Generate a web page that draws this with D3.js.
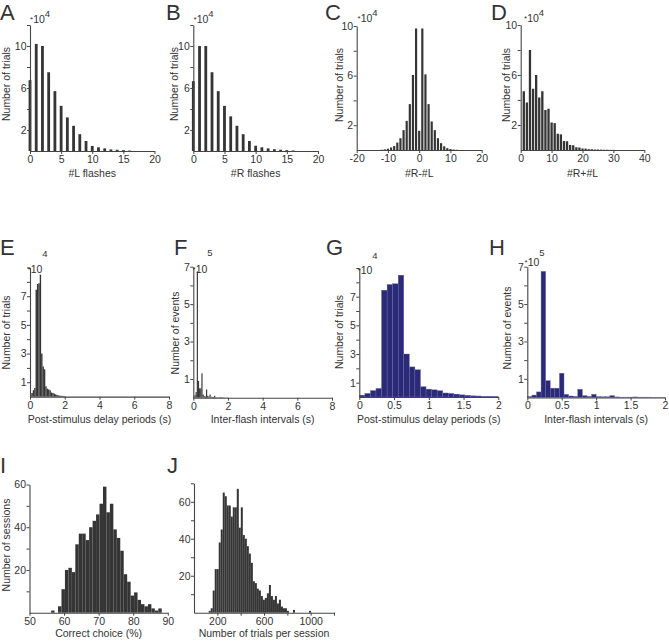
<!DOCTYPE html>
<html><head><meta charset="utf-8">
<script src="https://cdn.jsdelivr.net/npm/d3@7"></script>
<style>
body{margin:0;background:#fff}
svg{display:block}
text{font-family:"Liberation Sans",Arial,Helvetica,sans-serif;fill:#333}
</style>
</head><body>
<svg id="c" width="669" height="643"></svg>
<script>
// ---------------- DATA ----------------
// A, B: number of flashes per side (x 10^4 trials)
const flashCounts = [0,1,2,3,4,5,6,7,8,9,10,11,12,13,14,15,16];
const leftFlashTrials  = [6.75,10.2,10.0,7.5,5.7,4.3,3.2,2.4,1.6,0.95,0.48,0.35,0.25,0.15,0.12,0.08,0.04];
const rightFlashTrials = [6.65,10.0,10.0,7.5,5.7,4.3,3.3,2.4,1.6,0.95,0.5,0.35,0.25,0.17,0.12,0.08,0.05];
// C: #R-#L (x 10^4 trials)
const diffValues = [-12,-11,-10,-9,-8,-7,-6,-5,-4,-3,-2,-1,0,1,2,3,4,5,6,7,8,9,10,11,12];
const diffTrials = [0.02,0.05,0.1,0.2,0.32,0.6,0.95,1.6,2.35,3.7,6.05,9.8,1.55,9.8,6.1,3.7,2.3,1.6,0.95,0.55,0.3,0.15,0.08,0.04,0.02];
// D: #R+#L (x 10^4 trials)
const sumValues = [1,2,3,4,5,6,7,8,9,10,11,12,13,14,15,16,17,18,19,20,21,22,23,24,25,26,27,28,29,30];
const sumTrials = [4.7,3.8,8.0,4.9,6.0,4.2,4.7,3.2,3.3,2.2,2.15,1.3,1.25,0.72,0.7,0.4,0.38,0.22,0.2,0.12,0.11,0.07,0.06,0.04,0.04,0.03,0.02,0.02,0.01,0.01];
// E, G: post-stimulus delay periods (s), bins of 0.08 s from 0 (x 10^4 trials)
const delayBinStart = 0, delayBinWidth = 0.08;
const delayTrials = [0.13,0.25,0.45,0.6,7.45,7.85,7.9,8.5,3.0,2.1,1.9,0.72,0.55,0.5,0.44,0.28,0.25,0.2,0.15,0.12,0.08,0.07,0.05,0.05,0.04];
// F, H: inter-flash intervals (s), bins of 1/15 s from 0 (x 10^5 events)
const ifiBinStart = 0, ifiBinWidth = 1/15;
const ifiEvents = [0.05,0.13,0.3,6.75,0.9,0.5,0.5,1.3,0.17,0.08,0.06,0.44,0.1,0.06,0.17,0.05,0.04,0.04,0.1,0.03,0.02,0.02,0.02,0.03,0.02,0.02,0.02,0.01,0.01,0.01];
// I: correct choice (%), bins of 1 %
const correctBinStart = 56.25, correctBinWidth = 1;
const correctSessions = [1,0,3,11,20,21,19,32,37,37,34,40,43,46,51,59,47,51,39,35,29,18,14.5,8,9.5,6,4,3,4,2,1,2];
// J: number of trials per session, bins of 17.2 trials
const trialsBinStart = 126, trialsBinWidth = 17.2;
const trialsSessions = [1,2.4,12,23.6,23.6,38,45,65,63,58,58,52,57,57,67,46,57,42,40,36,32,27,17,16,13,12,9,7,8,10.5,15,9,7,9,5,7,3.3,2.4,2.4,1,0,0,1.5,0,0,0,0,0,0,0,1];

// ---------------- DRAWING ----------------
const svg = d3.select('#c');
const GRAY = '#353535', NAVY = '#2a2a78', AX = '#444';
const FS = 10.5;

function panel(o) {
  const x = d3.scaleLinear().domain(o.xd).range([o.l, o.r]);
  const y = d3.scaleLinear().domain(o.yd).range([o.b, o.t]);
  const g = svg.append('g');
  o.draw(g.append('g'), x, y);
  const fmt = d => String(d);
  const xa = d3.axisBottom(x).tickValues(o.xt).tickSize(3).tickSizeOuter(0).tickPadding(1.5)
    .tickFormat(d => (!o.xl || o.xl.includes(d)) ? fmt(d) : '');
  const ya = d3.axisLeft(y).tickValues(o.yt).tickSize(3).tickSizeOuter(0).tickPadding(0.5)
    .tickFormat(d => o.yl.includes(d) ? fmt(d) : '');
  const gx = g.append('g').attr('transform', `translate(0,${o.b})`).call(xa);
  const gy = g.append('g').attr('transform', `translate(${o.l},0)`).call(ya);
  [gx, gy].forEach(a => {
    a.select('.domain').attr('stroke', AX).attr('stroke-width', 1.1);
    a.selectAll('.tick line').attr('stroke', AX).attr('stroke-width', 1);
    a.selectAll('text').attr('font-size', FS).attr('font-family', '"Liberation Sans",Arial,sans-serif').attr('fill', '#333');
  });
  if (o.xtitle) g.append('text').attr('x', (o.l + o.r) / 2).attr('y', o.xty).attr('text-anchor', 'middle')
    .attr('font-size', FS).text(o.xtitle);
  if (o.ytitle) g.append('text').attr('transform', `translate(${o.ytx},${o.yty}) rotate(-90)`)
    .attr('text-anchor', 'middle').attr('font-size', FS).text(o.ytitle);
  if (o.mult) {
    const m = o.mult;
    const t = g.append('text').attr('x', m.x).attr('y', m.y).attr('font-size', FS);
    t.append('tspan').attr('font-size', 8).attr('dy', -1.5).text('*');
    t.append('tspan').attr('dy', 1.5).text('10');
    t.append('tspan').attr('font-size', 9.5).attr('dy', m.sup).text(m.exp);
  }
  return {x, y};
}

function barsCentered(vals, counts, width, color) {
  return (g, x, y) => {
    g.selectAll('rect').data(vals).join('rect')
      .attr('x', (d) => x(d - width / 2))
      .attr('width', (d) => x(d + width / 2) - x(d - width / 2))
      .attr('y', (d, i) => y(counts[i]))
      .attr('height', (d, i) => y(0) - y(counts[i]))
      .attr('fill', color);
  };
}
function barsBinned(start, w, counts, color, stroke) {
  return (g, x, y) => {
    g.selectAll('rect').data(counts).join('rect')
      .attr('x', (d, i) => x(start + i * w))
      .attr('width', (d, i) => x(start + (i + 1) * w) - x(start + i * w))
      .attr('y', d => y(d))
      .attr('height', d => y(0) - y(d))
      .attr('fill', color)
      .attr('stroke', stroke || 'none')
      .attr('stroke-width', stroke ? 0.4 : 0);
  };
}

// Row 1
panel({l:30, r:154.5, t:25, b:151, xd:[0,20], yd:[0,12],
  xt:[0,5,10,15,20], yt:[2,4,6,8,10,12], yl:[2,6,10],
  xtitle:'#L flashes', xty:177, ytitle:'Number of trials', ytx:9.5, yty:84,
  mult:{x:30, y:23, exp:'4', sup:-6},
  draw: barsCentered(flashCounts, leftFlashTrials, 0.45, GRAY)});
panel({l:193.3, r:318, t:25, b:151, xd:[0,20], yd:[0,12],
  xt:[0,5,10,15,20], yt:[2,4,6,8,10,12], yl:[2,6,10],
  xtitle:'#R flashes', xty:177, ytitle:'Number of trials', ytx:177.5, yty:84,
  mult:{x:193.5, y:23, exp:'4', sup:-6},
  draw: barsCentered(flashCounts, rightFlashTrials, 0.45, GRAY)});
panel({l:356.7, r:481.7, t:26, b:150, xd:[-20,20], yd:[0,10],
  xt:[-20,-10,0,10,20], yt:[2,4,6,8,10], yl:[2,6,10],
  xtitle:'#R-#L', xty:177, ytitle:'Number of trials', ytx:342.5, yty:85,
  mult:{x:357.5, y:22, exp:'4', sup:-6.5},
  draw: barsCentered(diffValues, diffTrials, 0.7, GRAY)});
panel({l:520.7, r:644.3, t:25, b:150, xd:[0,40], yd:[0,10],
  xt:[0,10,20,30,40], yt:[2,4,6,8,10], yl:[2,6,10],
  xtitle:'#R+#L', xty:177, ytitle:'Number of trials', ytx:509.5, yty:85,
  mult:{x:524, y:22, exp:'4', sup:-6.5},
  draw: barsCentered(sumValues, sumTrials, 0.75, GRAY)});

// Row 2
panel({l:30, r:169, t:267.5, b:396.6, xd:[0,8], yd:[0,9],
  xt:[0,2,4,6,8], yt:[1,2,3,4,5,6,7,8,9], yl:[1,3,5,7],
  xtitle:'Post-stimulus delay periods (s)', xty:423, ytitle:'Number of trials', ytx:9.5, yty:332.5,
  mult:{x:27.5, y:273, exp:'4', sup:-16},
  draw: barsBinned(delayBinStart, delayBinWidth, delayTrials, GRAY)});
panel({l:193.3, r:332, t:266.7, b:397.7, xd:[0,8], yd:[0,7],
  xt:[0,2,4,6,8], yt:[1,2,3,4,5,6,7], yl:[1,3,5,7],
  xtitle:'Inter-flash intervals (s)', xty:423, ytitle:'Number of events', ytx:179, yty:333,
  mult:{x:192.5, y:273, exp:'5', sup:-17},
  draw: barsBinned(ifiBinStart, ifiBinWidth, ifiEvents, GRAY)});
panel({l:359.3, r:498.3, t:268, b:397, xd:[0,2], yd:[0,9],
  xt:[0,0.5,1,1.5,2], yt:[1,2,3,4,5,6,7,8,9], yl:[1,3,5,7],
  xtitle:'Post-stimulus delay periods (s)', xty:423, ytitle:'Number of trials', ytx:342.5, yty:332,
  mult:{x:357.5, y:274, exp:'4', sup:-15},
  draw: barsBinned(delayBinStart, delayBinWidth, delayTrials, NAVY, '#6a6aa8')});
panel({l:527.3, r:665, t:266.7, b:397.5, xd:[0,2], yd:[0,7],
  xt:[0,0.5,1,1.5,2], yt:[1,2,3,4,5,6,7], yl:[1,3,5,7],
  xtitle:'Inter-flash intervals (s)', xty:423, ytitle:'Number of events', ytx:511, yty:328,
  mult:{x:524.5, y:266, exp:'5', sup:-10},
  draw: barsBinned(ifiBinStart, ifiBinWidth, ifiEvents, NAVY, '#6a6aa8')});

// Row 3
panel({l:29.5, r:167.8, t:484.5, b:612.7, xd:[50,90], yd:[0,60],
  xt:[50,60,70,80,90], yt:[10,20,30,40,50,60], yl:[20,40,60],
  xtitle:'Correct choice (%)', xty:637, ytitle:'Number of sessions', ytx:9.5, yty:545,
  draw: barsBinned(correctBinStart, correctBinWidth, correctSessions, GRAY)});
panel({l:194, r:334, t:483.3, b:612.7, xd:[0,1200], yd:[0,70],
  xt:[200,400,600,800,1000,1200], xl:[200,600,1000], yt:[10,20,30,40,50,60,70], yl:[20,40,60],
  xtitle:'Number of trials per session', xty:637,
  draw: barsBinned(trialsBinStart, trialsBinWidth, trialsSessions, GRAY)});

// Panel letters
const letters = [['A',0,20],['B',166,20],['C',325,20],['D',491,20],
  ['E',0,255],['F',174,255],['G',326,255],['H',489,255],['I',0,473],['J',167,473]];
svg.selectAll('text.lab').data(letters).join('text').attr('class','lab')
  .attr('x', d => d[1]).attr('y', d => d[2]).attr('font-size', 22).attr('fill', '#222').text(d => d[0]);
</script>
</body></html>
